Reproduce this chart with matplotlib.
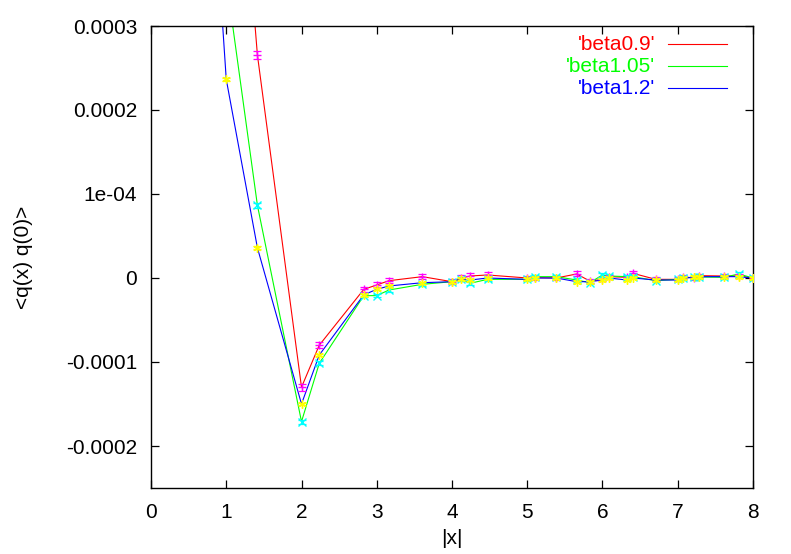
import numpy as np
import matplotlib
matplotlib.use("Agg")
import matplotlib.pyplot as plt
from matplotlib.lines import Line2D

plt.rcParams['font.family'] = ['Liberation Sans', 'DejaVu Sans']

# lattice distances |x|
x = [0.0, 1.0, 1.414, 2.0, 2.236, 2.828, 3.0, 3.162, 3.606, 4.0, 4.123, 4.243,
     4.472, 5.0, 5.099, 5.385, 5.657, 5.831, 6.0, 6.083, 6.325, 6.403, 6.708,
     7.0, 7.071, 7.211, 7.280, 7.616, 7.810, 8.0]

# <q(x) q(0)> in units of 1e-4
b09 = [20.0, 7.26, 2.655, -1.30, -0.80, -0.135, -0.083, -0.032, 0.016, -0.044, 0.0, 0.024,
       0.036, 0.0, 0.004, 0.0, 0.048, -0.036, -0.016, 0.016, 0.008, 0.056, -0.016,
       -0.016, 0.016, 0.0, 0.028, 0.024, 0.024, 0.0]
e09 = [0.1, 0.06, 0.045, 0.04, 0.035, 0.03, 0.03, 0.03, 0.03, 0.03, 0.03, 0.03,
       0.03, 0.025, 0.025, 0.025, 0.03, 0.025, 0.025, 0.025, 0.025, 0.03, 0.025,
       0.025, 0.025, 0.025, 0.025, 0.02, 0.02, 0.02]

b105 = [18.0, 3.56, 0.866, -1.71, -1.016, -0.21, -0.21, -0.143, -0.075, -0.044, -0.016, -0.063,
        -0.016, -0.016, 0.016, 0.016, -0.024, -0.056, 0.036, 0.024, 0.016, 0.016, -0.032,
        -0.016, 0.0, 0.008, 0.012, 0.008, 0.048, 0.0]
e105 = [0.1, 0.04, 0.03, 0.025, 0.025, 0.02, 0.02, 0.02, 0.02, 0.02, 0.02, 0.02,
        0.02, 0.02, 0.02, 0.02, 0.02, 0.02, 0.02, 0.02, 0.02, 0.02, 0.02,
        0.02, 0.02, 0.02, 0.02, 0.02, 0.02, 0.02]

b12 = [15.8, 2.365, 0.36, -1.50, -0.917, -0.20, -0.135, -0.095, -0.056, -0.044, -0.016, -0.024,
       0.0, -0.016, 0.0, 0.0, -0.044, -0.044, -0.024, 0.0, -0.024, 0.0, -0.024,
       -0.024, 0.0, 0.008, 0.016, 0.016, 0.016, 0.0]
e12 = [0.1, 0.015, 0.015, 0.015, 0.015, 0.012, 0.012, 0.012, 0.012, 0.012, 0.012, 0.012,
       0.012, 0.012, 0.012, 0.012, 0.012, 0.012, 0.012, 0.012, 0.012, 0.012, 0.012,
       0.012, 0.012, 0.012, 0.012, 0.012, 0.012, 0.012]

labels = ["'beta0.9'", "'beta1.05'", "'beta1.2'"]
line_colors = ['#ff0000', '#00ff00', '#0000ff']
err_colors = ['#ff00ff', '#00ffff', '#ffff00']
err_markers = ['+', 'x', (6, 2, 0)]
xticks = [0, 1, 2, 3, 4, 5, 6, 7, 8]
yticks = [-0.0002, -0.0001, 0, 0.0001, 0.0002, 0.0003]
yticklabels = ['-0.0002', '-0.0001', '0', '1e-04', '0.0002', '0.0003']

FS = 15
W, H = 791, 554

xs = np.array(x)
series = [np.array(b09) * 1e-4, np.array(b105) * 1e-4, np.array(b12) * 1e-4]
errs = [np.array(e09) * 1e-4, np.array(e105) * 1e-4, np.array(e12) * 1e-4]

fig = plt.figure(figsize=(W / 100, H / 100), dpi=100)
ax = fig.add_axes([151 / W, 1 - 488 / H, (753 - 151) / W, (488 - 26) / H])

for ys, c, lab in zip(series, line_colors, labels):
    ax.plot(xs, ys, color=c, lw=0.8, label=lab, zorder=2)

for ys, er, c, m in zip(series, errs, err_colors, err_markers):
    ax.errorbar(xs, ys, yerr=er, fmt='none', ecolor=c, elinewidth=0.9,
                capsize=2.7, capthick=0.9, zorder=3)
    ax.plot(xs, ys, ls='none', marker=m, color=c, ms=6, mew=1.0, zorder=3)

ax.set_xlim(0, 8)
ax.set_ylim(-0.00025, 0.0003)
ax.set_xticks(xticks)
ax.set_yticks(yticks)
ax.set_yticklabels(yticklabels)
ax.tick_params(direction='in', top=True, right=True, length=6, width=0.9,
               labelsize=FS, colors='black')
ax.tick_params(axis='y', pad=10)
ax.tick_params(axis='x', pad=11)
for s in ax.spines.values():
    s.set_linewidth(1.0)

ax.set_xlabel('|x|', fontsize=FS, labelpad=5)
ax.set_ylabel('<q(x) q(0)>', fontsize=FS, labelpad=24)

# legend (gnuplot style: right-aligned coloured text, sample line to the right)
row_y = [44, 66, 88]
for lab, c, ry in zip(labels, line_colors, row_y):
    fig.text(655 / W, 1 - ry / H, lab, color=c, fontsize=FS, ha='right', va='center')
    fig.add_artist(Line2D([668 / W, 727 / W], [1 - ry / H, 1 - ry / H],
                          transform=fig.transFigure, color=c, lw=0.8))

fig.savefig('out.png', dpi=100)
